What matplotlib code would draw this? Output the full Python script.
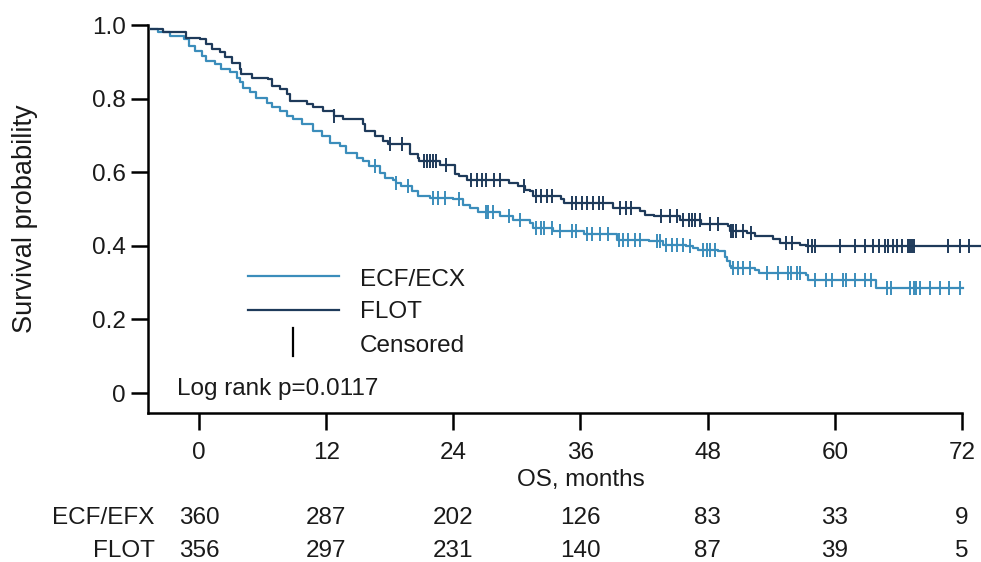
import numpy as np
import matplotlib
matplotlib.use("Agg")
import matplotlib.pyplot as plt
from matplotlib.transforms import blended_transform_factory

plt.rcParams['font.family'] = ['Liberation Sans', 'DejaVu Sans']

# Kaplan-Meier step data (months, survival probability after each drop)
flot_t = [-4.5, -3.4, -1.2, 0.1, 0.7, 1.2, 2.0, 2.5, 3.1, 3.9, 4.0, 5.0, 6.5, 6.9, 7.6,
          8.3, 8.6, 10.2, 10.8, 11.7, 12.7, 13.6, 15.5, 15.7, 16.6, 17.4, 17.8, 19.9,
          20.7, 20.8, 22.7, 24.2, 24.5, 25.3, 29.3, 30.1, 30.8, 31.2, 31.5, 34.2, 34.4,
          39.1, 41.6, 42.1, 42.9, 45.4, 47.4, 49.9, 50.1, 51.7, 52.5, 54.2, 54.8, 56.7, 57.3]
flot_s = [0.99, 0.980, 0.966, 0.962, 0.948, 0.935, 0.926, 0.912, 0.898, 0.880, 0.866,
          0.857, 0.853, 0.835, 0.826, 0.812, 0.794, 0.785, 0.776, 0.766, 0.753, 0.744,
          0.730, 0.712, 0.698, 0.685, 0.676, 0.649, 0.640, 0.630, 0.621, 0.594, 0.589,
          0.580, 0.571, 0.562, 0.553, 0.549, 0.535, 0.526, 0.517, 0.503, 0.494, 0.485,
          0.480, 0.471, 0.460, 0.453, 0.440, 0.435, 0.426, 0.418, 0.408, 0.403, 0.399]
flot_end = 73.7
flot_cens = [12.7, 18.0, 19.2, 21.2, 21.5, 21.8, 22.1, 22.4, 23.3, 25.7, 26.2, 26.7, 27.1,
             27.8, 28.4, 30.7, 31.8, 32.3, 32.8, 33.3, 35.2, 35.6, 36.1, 36.6, 37.2, 37.7,
             38.1, 39.7, 40.3, 40.8, 43.6, 44.4, 45.1, 45.7, 46.2, 46.5, 46.8, 47.3, 48.2,
             49.0, 50.2, 50.4, 50.7, 51.3, 52.1, 55.4, 56.0, 57.5, 57.8, 58.1, 60.5, 61.9,
             62.8, 63.6, 64.2, 64.7, 65.0, 65.5, 65.9, 66.3, 66.9, 67.1, 67.3, 67.5, 70.7,
             71.8, 72.7]

ecf_t = [-4.5, -3.9, -2.7, -1.4, -0.9, -0.4, 0.25, 0.7, 1.5, 2.1, 2.9, 3.6, 3.9, 4.2, 4.8,
         5.4, 6.4, 6.9, 7.6, 8.3, 8.9, 9.7, 10.8, 11.6, 12.4, 13.3, 13.9, 14.9, 15.5, 16.0,
         17.1, 17.6, 18.3, 18.6, 19.1, 20.1, 20.7, 21.8, 24.0, 24.9, 25.6, 26.3, 28.4, 29.6,
         31.2, 31.5, 33.4, 36.3, 39.4, 42.5, 43.8, 46.0, 46.6, 47.1, 49.0, 49.6, 49.8, 50.1,
         50.2, 52.5, 52.8, 57.3, 57.5, 63.9]
ecf_s = [0.99, 0.980, 0.971, 0.962, 0.944, 0.930, 0.916, 0.903, 0.894, 0.880, 0.871, 0.857,
         0.844, 0.830, 0.817, 0.803, 0.789, 0.776, 0.766, 0.753, 0.744, 0.730, 0.712, 0.698,
         0.680, 0.671, 0.653, 0.640, 0.630, 0.617, 0.599, 0.585, 0.580, 0.571, 0.562, 0.549,
         0.535, 0.530, 0.526, 0.512, 0.503, 0.493, 0.482, 0.471, 0.462, 0.449, 0.440, 0.431,
         0.417, 0.412, 0.403, 0.399, 0.394, 0.390, 0.385, 0.371, 0.358, 0.344, 0.340, 0.335,
         0.326, 0.322, 0.308, 0.285]
ecf_end = 72.1
ecf_cens = [16.6, 18.6, 19.7, 22.1, 22.6, 23.2, 24.5, 27.1, 27.3, 27.7, 29.3, 30.3, 31.8,
            32.3, 32.6, 33.3, 34.1, 35.2, 35.6, 36.6, 37.1, 37.8, 38.6, 39.6, 40.0, 40.5,
            41.1, 41.6, 43.2, 43.5, 44.1, 44.6, 45.1, 45.7, 46.3, 47.6, 47.9, 48.2, 48.7,
            50.4, 50.9, 51.3, 52.0, 53.6, 54.6, 55.6, 55.9, 56.4, 56.7, 58.1, 59.2, 59.7,
            60.8, 61.1, 61.9, 62.8, 63.4, 64.9, 65.3, 67.1, 67.5, 67.7, 68.0, 69.0, 69.9,
            70.8, 71.8]

# Numbers at risk
risk_months = [0, 12, 24, 36, 48, 60, 72]
risk_ecf = [360, 287, 202, 126, 83, 33, 9]
risk_flot = [356, 297, 231, 140, 87, 39, 5]
risk_labels = ["ECF/EFX", "FLOT"]

y_ticks = [0, 0.2, 0.4, 0.6, 0.8, 1.0]
y_ticklabels = ["0", "0.2", "0.4", "0.6", "0.8", "1.0"]

c_ecf = "#3b8dbb"
c_flot = "#1e3a5a"
txt = "#1a1a1a"

W, H = 981, 562
fig = plt.figure(figsize=(W / 100, H / 100), dpi=100)
ax = fig.add_axes([148 / W, (H - 413) / H, (962 - 148) / W, (413 - 25) / H])
ax.set_xlim(-4.81, 72)
ax.set_ylim(-0.054, 1.0)


def km_curve(ax, t, s, t_end, cens, color):
    tt = np.append(t, t_end)
    ss = np.append(s, s[-1])
    ax.step(tt, ss, where="post", color=color, lw=1.6, clip_on=False, zorder=3)
    cens = np.asarray(cens)
    idx = np.searchsorted(np.asarray(t), cens, side="right") - 1
    ax.plot(cens, np.asarray(s)[idx], ls="none", marker="|", ms=10, mew=1.4,
            color=color, clip_on=False, zorder=4)


km_curve(ax, ecf_t, ecf_s, ecf_end, ecf_cens, c_ecf)
km_curve(ax, flot_t, flot_s, flot_end, flot_cens, c_flot)

for side in ("top", "right"):
    ax.spines[side].set_visible(False)
for side in ("left", "bottom"):
    ax.spines[side].set_linewidth(1.8)
    ax.spines[side].set_color("black")

ax.set_xticks(risk_months)
ax.set_xticklabels([str(m) for m in risk_months])
ax.set_yticks(y_ticks)
ax.set_yticklabels(y_ticklabels)
ax.tick_params(axis="both", direction="out", length=12, width=1.8, colors="black",
               labelsize=17.5, labelcolor=txt)
ax.tick_params(axis="y", pad=4)
ax.tick_params(axis="x", pad=9)

ax.set_ylabel("Survival probability", fontsize=19.5, color=txt)
ax.yaxis.set_label_coords(-0.135, 0.5)

# x-axis title centred under the 36-month tick
bt = blended_transform_factory(ax.transData, ax.transAxes)
ax.text(36, -(480 - 413) / 388, "OS, months", transform=bt, ha="center", va="center",
        fontsize=17.5, color=txt)

# Legend
ax.plot([4.65, 13.24], [0.318, 0.318], color=c_ecf, lw=1.6)
ax.plot([4.65, 13.24], [0.2255, 0.2255], color=c_flot, lw=1.6)
ax.plot([8.9, 8.9], [0.1005, 0.1758], color="black", lw=1.6)
ax.text(15.2, 0.2916, "ECF/ECX", fontsize=17.5, color=txt, va="baseline")
ax.text(15.2, 0.203, "FLOT", fontsize=17.5, color=txt, va="baseline")
ax.text(15.2, 0.112, "Censored", fontsize=17.5, color=txt, va="baseline")
ax.text(-2.08, -0.005, "Log rank p=0.0117", fontsize=17.5, color=txt, va="baseline")

# Numbers-at-risk table
row_y = [-(518 - 413) / 388, -(551 - 413) / 388]
for label, counts, yy in zip(risk_labels, [risk_ecf, risk_flot], row_y):
    ax.text(-4.2, yy, label, transform=bt, ha="right", va="center", fontsize=17.5,
            color=txt, clip_on=False)
    for m, n in zip(risk_months, counts):
        ax.text(m, yy, str(n), transform=bt, ha="center", va="center", fontsize=17.5,
                color=txt, clip_on=False)

fig.savefig("out.png", dpi=100)
